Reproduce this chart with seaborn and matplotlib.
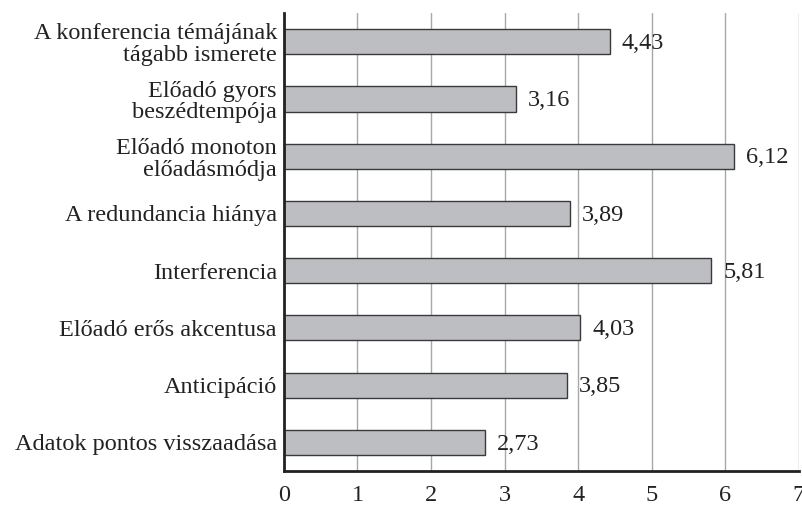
import matplotlib
matplotlib.use("Agg")
import matplotlib.pyplot as plt
import seaborn as sns
import pandas as pd

categories = [
    "A konferencia témájának\ntágabb ismerete",
    "Előadó gyors\nbeszédtempója",
    "Előadó monoton\nelőadásmódja",
    "A redundancia hiánya",
    "Interferencia",
    "Előadó erős akcentusa",
    "Anticipáció",
    "Adatok pontos visszaadása",
]
values = [4.43, 3.16, 6.12, 3.89, 5.81, 4.03, 3.85, 2.73]
xticks = [0, 1, 2, 3, 4, 5, 6, 7]

sns.set_style("white")
plt.rcParams['font.family'] = ['Liberation Serif', 'DejaVu Serif']

df = pd.DataFrame({"cat": categories, "val": values})

fig = plt.figure(figsize=(8.02, 5.08), dpi=100)
ax = fig.add_axes([0.354, 0.073, 0.642, 0.901])

sns.barplot(data=df, x="val", y="cat", orient="h", color="#bdbec2",
            edgecolor="#3a3a3a", linewidth=1.0, width=0.44, saturation=1, ax=ax)

fs = 17.5
for i, v in enumerate(values):
    ax.text(v + 0.16, i + 0.03, f"{v:.2f}".replace(".", ","), va="center", ha="left",
            fontsize=fs, color="#222222")

ax.set_xlim(0, 7)
ax.set_ylim(len(categories) - 0.5, -0.5)
ax.set_xticks(xticks)
ax.set_xticklabels([str(t) for t in xticks], fontsize=fs, color="#222222")
ax.xaxis.grid(True, color="#a8a8a8", linewidth=1.0)
ax.set_axisbelow(True)

ax.set_yticks(range(len(categories)))
ax.set_yticklabels(categories, fontsize=fs, color="#222222", ha="right",
                   multialignment="right")
for lbl in ax.get_yticklabels():
    lbl.set_linespacing(1.05)
ax.set_yticks([i - 0.5 for i in range(len(categories) + 1)], minor=True)
ax.tick_params(axis="y", which="major", length=0, pad=5)
ax.tick_params(axis="y", which="minor", length=5, width=2, direction="out", color="#222222")
ax.tick_params(axis="x", which="major", length=5, width=2, direction="out",
               color="#222222", pad=5)

ax.set_xlabel("")
ax.set_ylabel("")
for s in ["top", "right"]:
    ax.spines[s].set_visible(False)
for s in ["left", "bottom"]:
    ax.spines[s].set_color("#222222")
    ax.spines[s].set_linewidth(2)

fig.savefig("out.png", dpi=100)
